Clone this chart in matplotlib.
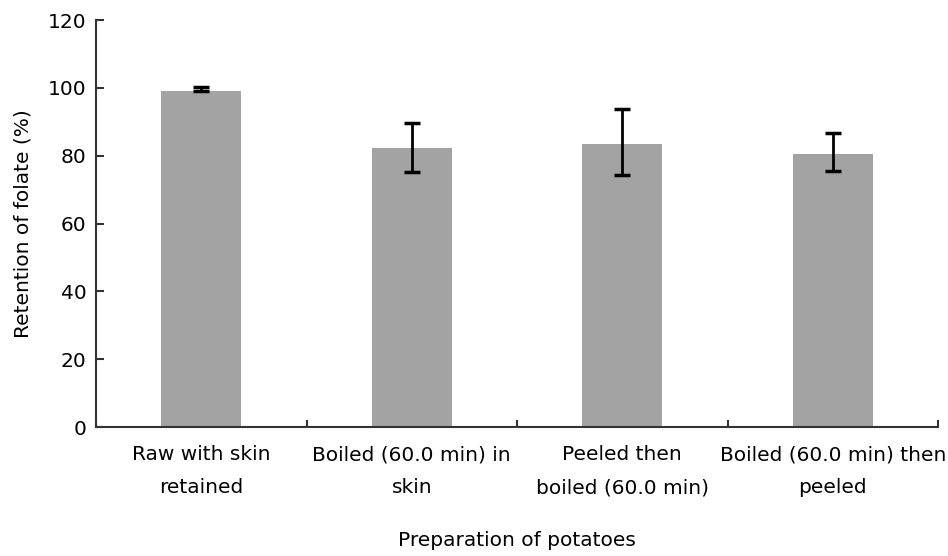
import matplotlib
matplotlib.use("Agg")
import matplotlib.pyplot as plt
import numpy as np

# Data
categories = ["Raw with skin\nretained",
              "Boiled (60.0 min) in\nskin",
              "Peeled then\nboiled (60.0 min)",
              "Boiled (60.0 min) then\npeeled"]
retention = [99.1, 82.2, 83.5, 80.5]
err_low = [0.0, 7.0, 9.3, 4.9]
err_high = [1.2, 7.3, 10.2, 6.2]

plt.rcParams['font.family'] = ['DejaVu Sans']

fig = plt.figure(figsize=(9.48, 5.56), dpi=100)
ax = fig.add_axes([0.1013, 0.232, 0.8882, 0.732])

x = np.arange(len(categories))
ax.bar(x, retention, width=0.38, color="#a3a3a3", zorder=2)
ax.errorbar(x, retention, yerr=[err_low, err_high], fmt="none",
            ecolor="black", elinewidth=2, capsize=5.5, capthick=2.5, zorder=3)

ax.set_xlim(-0.5, len(categories) - 0.5)
ax.set_ylim(0, 120)
ax.set_yticks(range(0, 121, 20))

# category labels centred under bars, ticks at the boundaries
ax.set_xticks(x)
ax.set_xticklabels(categories, fontsize=14.5, linespacing=1.95)
ax.tick_params(axis="x", which="major", length=0, pad=13)
ax.set_xticks(np.arange(-0.5, len(categories), 1.0), minor=True)
ax.tick_params(axis="x", which="minor", direction="in", length=5,
               width=1.5, color="#333333")
ax.tick_params(axis="y", direction="in", length=5.5, width=1.5,
               color="#333333", labelsize=14.5, pad=7)

for side in ["top", "right"]:
    ax.spines[side].set_visible(False)
for side in ["left", "bottom"]:
    ax.spines[side].set_linewidth(1.5)
    ax.spines[side].set_color("#333333")

ax.set_ylabel("Retention of folate (%)", fontsize=14.5)
ax.yaxis.set_label_coords(-0.075, 0.5)
ax.set_xlabel("Preparation of potatoes", fontsize=14.5, labelpad=24)

fig.savefig("out.png", dpi=100)
